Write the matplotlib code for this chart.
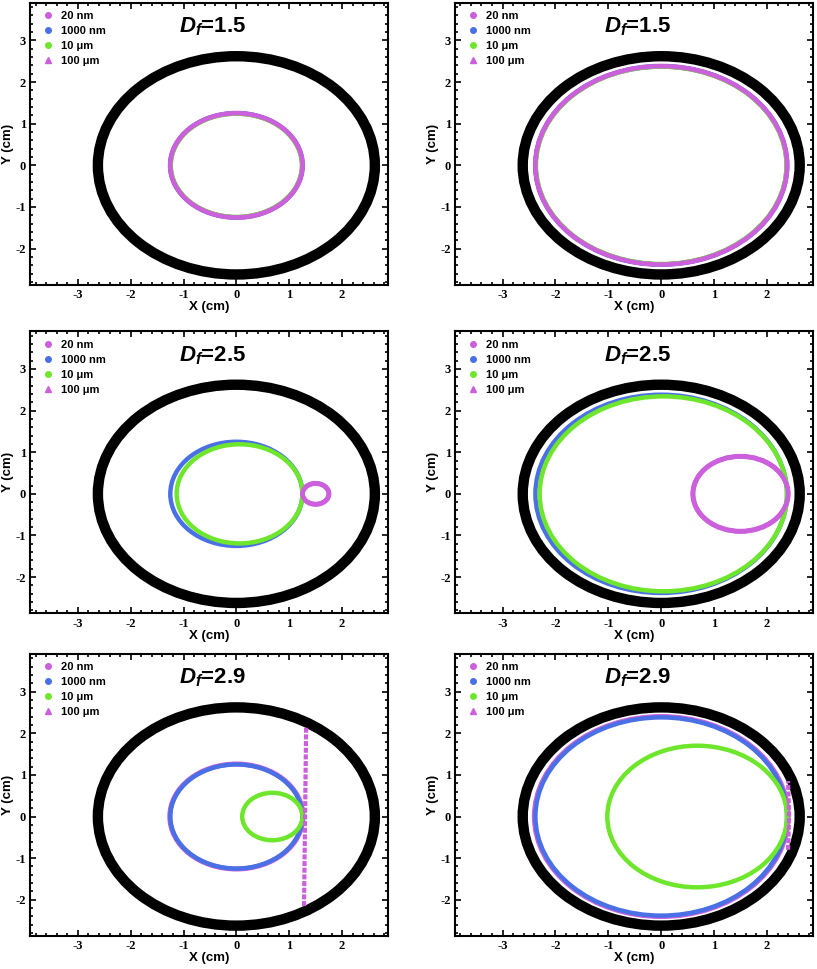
import numpy as np
import matplotlib
matplotlib.use('Agg')
import matplotlib.pyplot as plt
from matplotlib.patches import Circle
from matplotlib.lines import Line2D
from matplotlib.ticker import MultipleLocator

plt.rcParams['axes.unicode_minus'] = False
plt.rcParams['mathtext.fontset'] = 'custom'
plt.rcParams['mathtext.it'] = 'Liberation Sans:italic:bold'
plt.rcParams['mathtext.rm'] = 'Liberation Sans:bold'

# panels in row order: (Df=1.5 left, right), (Df=2.5 left, right), (Df=2.9 left, right)
df_values = ['1.5', '1.5', '2.5', '2.5', '2.9', '2.9']
labels = ['20 nm', '1000 nm', '10 \u03bcm', '100 \u03bcm']

outer_r = 2.62

# circle centre (x) and radius in cm
cx_20nm = [0.0, 0.0, 1.50, 1.50, 0.0, 0.0]
r_20nm = [1.25, 2.38, 0.25, 0.90, 1.26, 2.40]
cx_1000nm = [0.0, 0.0, 0.0, 0.0, 0.0, 0.0]
r_1000nm = [1.25, 2.38, 1.25, 2.38, 1.25, 2.38]
cx_10um = [0.0, 0.0, 0.06, 0.04, 0.68, 0.68]
r_10um = [1.24, 2.37, 1.19, 2.34, 0.57, 1.70]
# 100 um: circles in the first two rows, nearly straight arcs in the last row
cx_100um = [0.0, 0.0, 1.50, 1.50, None, None]
r_100um = [1.25, 2.38, 0.25, 0.90, None, None]
x_100um_arc = [None, None, None, None, [1.28, 1.30, 1.32], [2.40, 2.42, 2.40]]
y_100um_arc = [None, None, None, None, [-2.15, 0.0, 2.15], [-0.80, 0.0, 0.85]]

c_pink = '#cc5fdc'
c_blue = '#4a70e6'
c_green = '#6ee62c'

fig = plt.figure(figsize=(8.17, 9.69), dpi=100)
lefts = [0.037, 0.557]
bottoms = [0.706, 0.367, 0.034]

for k in range(6):
    row, col = k // 2, k % 2
    ax = fig.add_axes([lefts[col], bottoms[row], 0.438, 0.291])
    ax.set_xlim(-3.9, 2.87)
    ax.set_ylim(-2.87, 3.9)

    ax.add_patch(Circle((0, 0), outer_r, fill=False, ec='black', lw=7.5))
    ax.add_patch(Circle((cx_20nm[k], 0), r_20nm[k], fill=False, ec=c_pink, lw=3.6))
    ax.add_patch(Circle((cx_1000nm[k], 0), r_1000nm[k], fill=False, ec=c_blue, lw=3.2))
    ax.add_patch(Circle((cx_10um[k], 0), r_10um[k], fill=False, ec=c_green, lw=3.2))
    if r_100um[k] is not None:
        ax.add_patch(Circle((cx_100um[k], 0), r_100um[k], fill=False, ec=c_pink, lw=3.2))
    else:
        ax.plot(x_100um_arc[k], y_100um_arc[k], color=c_pink, lw=3, ls=(0, (1.2, 0.4)))

    ax.xaxis.set_major_locator(MultipleLocator(1))
    ax.yaxis.set_major_locator(MultipleLocator(1))
    ax.xaxis.set_minor_locator(MultipleLocator(0.2))
    ax.yaxis.set_minor_locator(MultipleLocator(0.2))
    ax.tick_params(which='both', direction='in', top=True, right=True, width=1.2)
    ax.tick_params(which='major', length=4, pad=3)
    ax.tick_params(which='minor', length=2)
    for lab in ax.get_xticklabels() + ax.get_yticklabels():
        lab.set_fontfamily('Liberation Serif')
        lab.set_fontweight('bold')
        lab.set_fontsize(9)
    for sp in ax.spines.values():
        sp.set_linewidth(1.5)

    ax.set_xlabel('X (cm)', fontfamily='Liberation Sans', fontweight='bold', fontsize=9.5, labelpad=0)
    ax.set_ylabel('Y (cm)', fontfamily='Liberation Sans', fontweight='bold', fontsize=9.5, labelpad=1)

    ax.text(0.51, 0.915, r'$D_f$=' + df_values[k], transform=ax.transAxes,
            ha='center', va='center', fontsize=16, fontfamily='Liberation Sans', fontweight='bold')

    handles = [Line2D([], [], ls='', marker='o', ms=4, color=c_pink),
               Line2D([], [], ls='', marker='o', ms=4, color=c_blue),
               Line2D([], [], ls='', marker='o', ms=4, color=c_green),
               Line2D([], [], ls='', marker='^', ms=4, color=c_pink)]
    ax.legend(handles, labels, loc='upper left', bbox_to_anchor=(0.0, 1.01), frameon=False,
              prop={'family': 'Liberation Sans', 'weight': 'bold', 'size': 8},
              handlelength=1.2, handletextpad=0.6, labelspacing=0.45, borderpad=0.5)

plt.savefig('out.png', dpi=100)
